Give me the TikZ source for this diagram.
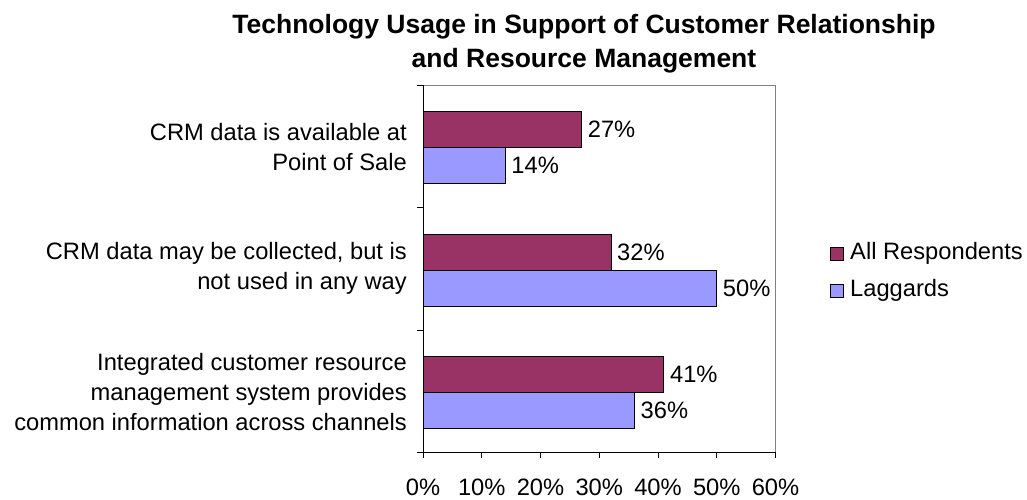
\documentclass[tikz,border=0pt]{standalone}
\usepackage{fontspec}
\setmainfont{Liberation Sans}
\usetikzlibrary{positioning}
\definecolor{allresp}{HTML}{993366}
\definecolor{laggard}{HTML}{9999FF}

\begin{document}
\begin{tikzpicture}[x=1pt,y=-1pt,font=\fontsize{23.7}{30}\selectfont,
	allbar/.style={draw=black,fill=allresp,line width=1pt},
	lagbar/.style={draw=black,fill=laggard,line width=1pt},
	vallabel/.style={anchor=west,inner sep=0pt,xshift=6pt},
	catlabel/.style={anchor=east,align=right,inner sep=0pt},
	ticklabel/.style={inner sep=0pt}]
						\useasboundingbox (0,0) rectangle (1027,499);

						\node[font=\fontsize{26.5}{34}\selectfont\bfseries,align=center] (title) at (584,44) {Technology Usage in Support of Customer Relationship\\and Resource Management};

						\draw[gray,line width=1pt] (423,85) rectangle (775.5,452.5);
						\draw[line width=1pt] (423,85) -- (423,452.5) -- (775.5,452.5);

						\foreach \y in {85,207.5,330,452.5}
							\draw[line width=1pt] (417,\y) -- (423,\y);
						\foreach \v in {0,10,...,60}
							\draw[line width=1pt] ({423+5.875*\v},452.5) -- ({423+5.875*\v},458);

						\node[ticklabel] (t0) at (423,487) {0\%};
						\node[ticklabel] (t10) at (481.75,487) {10\%};
						\node[ticklabel] (t20) at (540.5,487) {20\%};
						\node[ticklabel] (t30) at (599.25,487) {30\%};
						\node[ticklabel] (t40) at (658,487) {40\%};
						\node[ticklabel] (t50) at (716.75,487) {50\%};
						\node[ticklabel] (t60) at (775.5,487) {60\%};

						% bars
						\draw[allbar] (423,111.5) rectangle ({423+5.875*27},147.5);
						\draw[lagbar] (423,147.5) rectangle ({423+5.875*14},183.5);
						\draw[allbar] (423,234) rectangle ({423+5.875*32},270);
						\draw[lagbar] (423,270) rectangle ({423+5.875*50},306);
						\draw[allbar] (423,356.5) rectangle ({423+5.875*41},392.5);
						\draw[lagbar] (423,392.5) rectangle ({423+5.875*36},428.5);

						\node[vallabel] (v1a) at ({423+5.875*27},129.5) {27\%};
						\node[vallabel] (v1l) at ({423+5.875*14},165.5) {14\%};
						\node[vallabel] (v2a) at ({423+5.875*32},252) {32\%};
						\node[vallabel] (v2l) at ({423+5.875*50},288) {50\%};
						\node[vallabel] (v3a) at ({423+5.875*41},374.5) {41\%};
						\node[vallabel] (v3l) at ({423+5.875*36},410.5) {36\%};

						\node[catlabel] (cat1) at (407,147) {CRM data is available at\\Point of Sale};
						\node[catlabel] (cat2) at (407,268) {CRM data may be collected, but is\\not used in any way};
						\node[catlabel] (cat3) at (407,392) {Integrated customer resource\\management system provides\\common information across channels};

						% legend
						\draw[allbar] (830,247) rectangle (843,260);
						\draw[lagbar] (830,284) rectangle (843,297);
						\node[anchor=west,inner sep=0pt] (legall) at (850,253.5) {All Respondents};
						\node[anchor=west,inner sep=0pt] (leglag) at (850,290.5) {Laggards};
					\end{tikzpicture}
\end{document}
